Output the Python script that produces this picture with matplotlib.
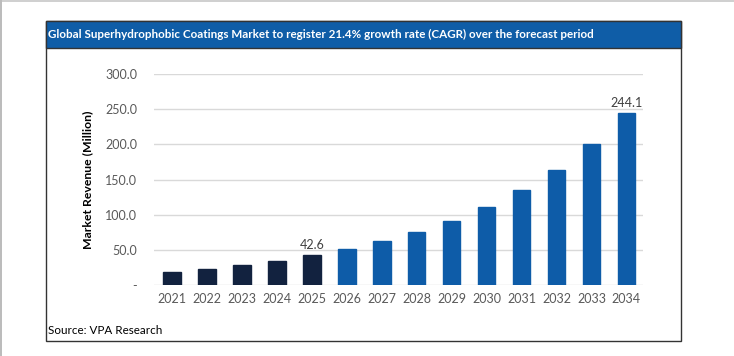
import matplotlib.pyplot as plt
from matplotlib.patches import Rectangle

years = ["2021", "2022", "2023", "2024", "2025", "2026", "2027",
         "2028", "2029", "2030", "2031", "2032", "2033", "2034"]
revenue = [19.0, 22.9, 27.8, 34.6, 42.6, 51.5, 62.3,
           75.5, 91.5, 111.0, 135.0, 164.0, 200.0, 244.1]
historic_years = 5
labelled = {4: "42.6", 13: "244.1"}
yticks = [0, 50, 100, 150, 200, 250, 300]
ytick_labels = ["-", "50.0", "100.0", "150.0", "200.0", "250.0", "300.0"]

title = "Global Superhydrophobic Coatings Market to register 21.4% growth rate (CAGR) over the forecast period"
source = "Source: VPA Research"

plt.rcParams['font.family'] = ['Lato', 'DejaVu Sans']

fig = plt.figure(figsize=(7.34, 3.56), dpi=100)
fig.patch.set_facecolor('white')

# faint page edges
fig.add_artist(Rectangle((0, 0.994), 1, 0.006, transform=fig.transFigure,
                         facecolor='#d0d0d0', edgecolor='none', zorder=-2))
fig.add_artist(Rectangle((0, 0), 0.003, 1, transform=fig.transFigure,
                         facecolor='#bcbcbc', edgecolor='none', zorder=-2))

# outer box and title bar
fig.add_artist(Rectangle((0.0627, 0.042), 0.8653, 0.899, transform=fig.transFigure,
                         facecolor='white', edgecolor='#333333', linewidth=1, zorder=-2))
fig.add_artist(Rectangle((0.0627, 0.865), 0.8653, 0.076, transform=fig.transFigure,
                         facecolor='#0F5DA7', edgecolor='#333333', linewidth=1, zorder=-1))
fig.text(0.066, 0.903, title, color='white', fontsize=8.4, fontweight='bold',
         ha='left', va='center')
fig.text(0.066, 0.073, source, color='black', fontsize=8.4, ha='left', va='center')

ax = fig.add_axes([0.2098, 0.1994, 0.666, 0.5927])
ax.patch.set_alpha(0)
colors = ['#12223F' if i < historic_years else '#0E5CA8' for i in range(len(years))]
x = list(range(len(years)))
ax.bar(x, revenue, width=0.5, color=colors, edgecolor=colors, zorder=3)

for i, txt in labelled.items():
    ax.text(i, revenue[i] + 6, txt, ha='center', va='bottom', fontsize=9, color='#404040')

ax.set_xlim(-0.52, 13.47)
ax.set_ylim(0, 300)
ax.set_yticks(yticks)
ax.set_yticklabels(ytick_labels)
ax.set_xticks(x)
ax.set_xticklabels(years)
ax.tick_params(axis='both', length=0, labelsize=9, colors='#595959')
ax.tick_params(axis='y', pad=12)
ax.tick_params(axis='x', pad=6)
ax.grid(axis='y', color='#d9d9d9', linewidth=1, zorder=0)
for s in ax.spines.values():
    s.set_visible(False)
ax.set_ylabel("Market Revenue (Million)", fontsize=8.8, fontweight='bold',
              color='black', labelpad=9)

fig.savefig('out.png', dpi=100)
